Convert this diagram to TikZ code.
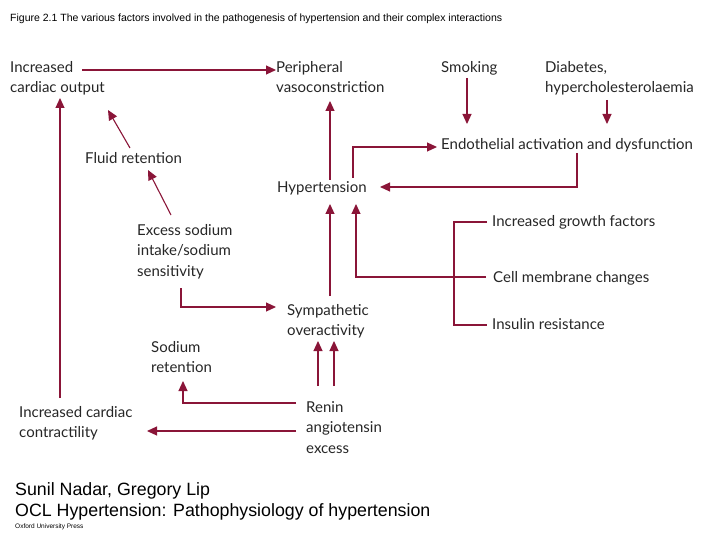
\documentclass[tikz,border=0pt]{standalone}
\usepackage{fontspec}
\setmainfont{Lato}
\newfontfamily\arial{Liberation Sans}
\usetikzlibrary{arrows.meta}
\definecolor{wine}{HTML}{8A1538}
\begin{document}
\begin{tikzpicture}[x=1pt,y=-1pt,
  lab/.style={anchor=north west,inner sep=0pt,align=left,font=\fontsize{15}{20.5}\selectfont,text=black!85,yshift=-3pt},
  con/.style={draw=wine,line width=1.1pt},
  arr/.style={con,-{Triangle[length=10pt,width=9pt]}}]
\useasboundingbox (0,0) rectangle (720,540);
\node[anchor=west,inner sep=0pt,font=\arial\fontsize{10.5}{12}\selectfont] (title) at (10,19) {Figure 2.1 The various factors involved in the pathogenesis of hypertension and their complex interactions};
\node[lab] (ico) at (10,58) {Increased\\cardiac output};
\node[lab] (pv) at (276,58) {Peripheral\\vasoconstriction};
\node[lab] (smk) at (441,58) {Smoking};
\node[lab] (dia) at (545,58) {Diabetes,\\hypercholesterolaemia};
\node[lab] (endo) at (441,135) {Endothelial activation and dysfunction};
\node[lab] (fluid) at (85,149) {Fluid retention};
\node[lab] (hyp) at (277,178) {Hypertension};
\node[lab] (exc) at (137,221) {Excess sodium\\intake/sodium\\sensitivity};
\node[lab] (gro) at (492,212) {Increased growth factors};
\node[lab] (cell) at (493,268) {Cell membrane changes};
\node[lab] (ins) at (492,315) {Insulin resistance};
\node[lab] (sym) at (287,301) {Sympathetic\\overactivity};
\node[lab] (sod) at (151,338) {Sodium\\retention};
\node[lab] (ren) at (306,398) {Renin\\angiotensin\\excess};
\node[lab] (icc) at (19,403) {Increased cardiac\\contractility};
\node[anchor=west,inner sep=0pt,font=\arial\fontsize{17.8}{19}\selectfont] (a1) at (15,491) {Sunil Nadar, Gregory Lip};
\node[anchor=west,inner sep=0pt,font=\arial\fontsize{17.8}{19}\selectfont] (a2) at (15,512) {OCL Hypertension: Pathophysiology of hypertension};
\node[anchor=west,inner sep=0pt,font=\arial\fontsize{6.5}{7}\selectfont] (a3) at (15,527) {Oxford University Press};
% connectors
\draw[arr] (ico.north west) ++(72,9) coordinate (c1) -- (c1 -| pv.west) ;
\draw[arr] (60,398) coordinate (c2) -- (60,98);
\draw[arr] (130,148) coordinate (c3) -- (108,110);
\draw[arr] (171,215) coordinate (c4) -- (148,170);
\draw[arr] (467,78) coordinate (c5) -- (467,124);
\draw[arr] (607,100) coordinate (c6) -- (607,124);
\draw[arr] (330,180) coordinate (c7) -- (330,101);
\draw[arr] (353,178) coordinate (c8) -- (353,147) -- (437,147);
\draw[arr] (577,153) coordinate (c9) -- (577,187) -- (380,187);
\draw[arr] (181,288) coordinate (c10) -- (181,307) -- (276,307);
\draw[arr] (330,296) coordinate (c11) -- (330,204);
\draw[arr] (486,277) coordinate (c12) -- (356,277) -- (356,204);
\draw[con] (487,222) -- (454,222) -- (454,325) -- (487,325);
\draw[arr] (318,386) -- (318,341);
\draw[arr] (334,386) -- (334,341);
\draw[arr] (296,403) -- (183,403) -- (183,381);
\draw[arr] (296,431) -- (147,431);
\end{tikzpicture}
\end{document}
